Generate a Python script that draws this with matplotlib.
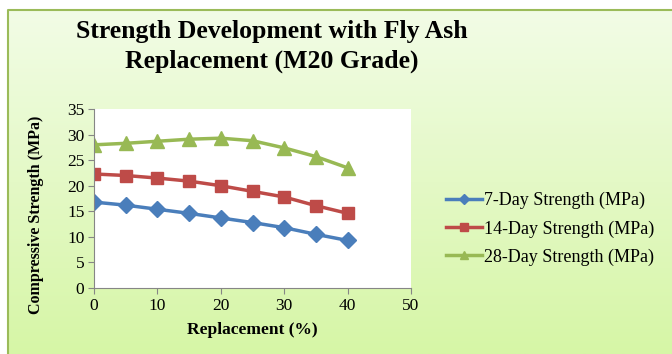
import numpy as np
import matplotlib.pyplot as plt

replacement = [0, 5, 10, 15, 20, 25, 30, 35, 40]
day7 = [16.8, 16.2, 15.4, 14.6, 13.7, 12.8, 11.8, 10.5, 9.3]
day14 = [22.3, 22.0, 21.5, 20.9, 20.0, 18.9, 17.8, 16.1, 14.6]
day28 = [28.0, 28.3, 28.7, 29.1, 29.3, 28.8, 27.4, 25.7, 23.5]

plt.rcParams['font.family'] = ['Liberation Serif', 'DejaVu Serif']

fig = plt.figure(figsize=(6.72, 3.54), dpi=100)
fig.patch.set_facecolor('white')

# gradient background box
bg = fig.add_axes([0, 0, 1, 1], zorder=0)
bg.set_xlim(0, 672)
bg.set_ylim(354, 0)
bg.axis('off')
top = np.array([242, 252, 230]) / 255
bottom = np.array([214, 246, 166]) / 255
t = np.linspace(0, 1, 256)[:, None]
grad = (top + (bottom - top) * t)[:, None, :]
bg.imshow(grad, extent=[8, 672, 354, 10], aspect='auto', zorder=0)
bg.plot([8, 8, 672], [354, 10, 10], color='#9BBB59', lw=1.5, zorder=1)

bg.text(272, 38, "Strength Development with Fly Ash", ha='center', va='baseline',
        fontsize=18.5, fontweight='bold')
bg.text(272, 68, "Replacement (M20 Grade)", ha='center', va='baseline',
        fontsize=18.5, fontweight='bold')

ax = fig.add_axes([0.140, 0.1864, 0.4716, 0.5056], zorder=2)
ax.set_facecolor('white')
ax.plot(replacement, day7, color='#4A7EBB', lw=2.5, marker='D', ms=8,
        label='7-Day Strength (MPa)')
ax.plot(replacement, day14, color='#BE4B48', lw=2.5, marker='s', ms=8.5,
        label='14-Day Strength (MPa)')
ax.plot(replacement, day28, color='#98B954', lw=2.5, marker='^', ms=10,
        label='28-Day Strength (MPa)')

ax.set_xlim(0, 50)
ax.set_ylim(0, 35)
ax.set_xticks(range(0, 51, 10))
ax.set_yticks(range(0, 36, 5))
for s in ['top', 'right']:
    ax.spines[s].set_visible(False)
for s in ['left', 'bottom']:
    ax.spines[s].set_color('#868686')
ax.tick_params(colors='#868686', labelcolor='black', labelsize=12.5, length=4, pad=3)
ax.set_xlabel('Replacement (%)', fontsize=12.5, fontweight='bold')
ax.set_ylabel('Compressive Strength (MPa)', fontsize=11.5, fontweight='bold')
ax.xaxis.set_label_coords(0.5, -0.19)
ax.yaxis.set_label_coords(-0.158, 0.41)

ax.legend(loc='center left', bbox_to_anchor=(1.06, 0.33), frameon=False,
          fontsize=13, handlelength=2.0, labelspacing=0.6, handletextpad=0.1,
          markerscale=0.6)

fig.savefig('out.png', dpi=100)
